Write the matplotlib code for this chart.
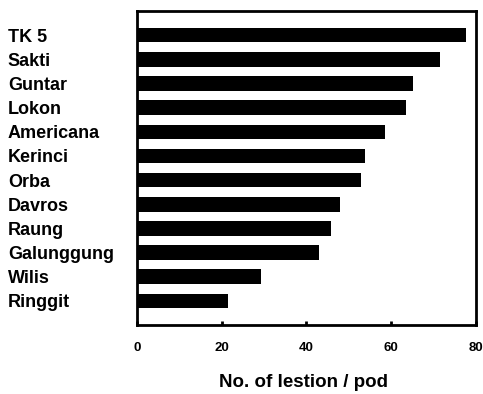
import matplotlib
matplotlib.use("Agg")
import matplotlib.pyplot as plt
import numpy as np

# Varieties, top to bottom, and mean lesion count per pod
varieties = ["TK 5", "Sakti", "Guntar", "Lokon", "Americana", "Kerinci",
             "Orba", "Davros", "Raung", "Galunggung", "Wilis", "Ringgit"]
lesions = [77.6, 71.6, 65.2, 63.6, 58.5, 53.9, 52.8, 47.9, 45.9, 42.9, 29.2, 21.4]
xticks = [0, 20, 40, 60, 80]

plt.rcParams['font.family'] = ['Liberation Sans', 'DejaVu Sans']

fig = plt.figure(figsize=(4.83, 3.94), dpi=100)
ax = fig.add_axes([0.2836, 0.175, 0.7019, 0.797])

pos = np.arange(len(varieties))
ax.barh(pos, lesions, height=0.6, color='black')

ax.set_ylim(len(varieties), -1)
ax.set_xlim(0, 80)

ax.set_yticks(pos)
ax.set_yticklabels(varieties, fontsize=13, fontweight='bold', ha='left')
ax.tick_params(axis='y', length=0, pad=93)

ax.set_xticks(xticks)
ax.set_xticklabels([str(v) for v in xticks], fontsize=9.5, fontweight='bold')
ax.tick_params(axis='x', direction='in', length=3, width=2, pad=12)

for s in ax.spines.values():
    s.set_linewidth(2)

ax.set_xlabel("No. of lestion / pod", fontsize=13.5, fontweight='bold')
ax.xaxis.set_label_coords(0.49, -0.155)

fig.savefig("out.png", dpi=100)
